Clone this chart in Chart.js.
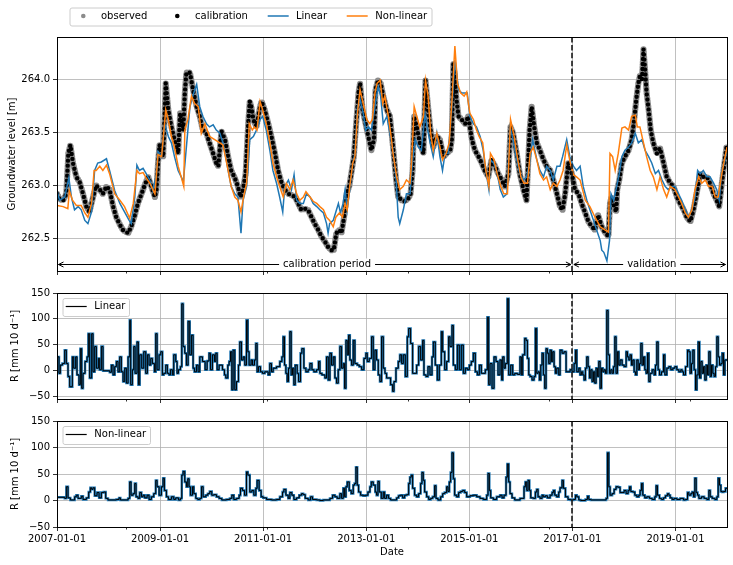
<!DOCTYPE html>
<html>
<head>
<meta charset="utf-8">
<script src="https://cdn.jsdelivr.net/npm/chart.js@4/dist/chart.umd.min.js"></script>
<style>
  html, body { margin: 0; padding: 0; background: #fff; }
  #wrap { position: relative; width: 733px; height: 565px; }
  .panel { position: absolute; left: 0; width: 733px; }
</style>
</head>
<body>
<div id="wrap">
  <div class="panel" style="top:0;height:280px"><canvas id="head"></canvas></div>
  <div class="panel" style="top:280px;height:128px"><canvas id="rlin"></canvas></div>
  <div class="panel" style="top:408px;height:157px"><canvas id="rnl"></canvas></div>
</div>
<script>
// x axis (decimal years)
const xMin = 2007.0, xMax = 2020.0;
const splitYear = 2017.0;
const xTickYears = [2007, 2009, 2011, 2013, 2015, 2017, 2019];
const minorYears = [2008.33, 2011.07, 2013.81, 2016.55, 2019.29];
const headTicks = [262.5, 263.0, 263.5, 264.0];
const rTicks = [-50, 0, 50, 100, 150];

// groundwater level, observed [m]
const obsT = [
  2007.00, 2007.05, 2007.12, 2007.18, 2007.22, 2007.26, 2007.31, 2007.375, 2007.44, 2007.505,
  2007.57, 2007.63, 2007.70, 2007.76, 2007.83, 2007.89, 2007.96, 2008.02, 2008.09, 2008.15,
  2008.22, 2008.28, 2008.38, 2008.44, 2008.51, 2008.57, 2008.64, 2008.70, 2008.77, 2008.83,
  2008.90, 2008.93, 2008.96, 2008.99, 2009.06, 2009.11, 2009.16, 2009.22, 2009.28, 2009.35,
  2009.39, 2009.45, 2009.48, 2009.51, 2009.58, 2009.64, 2009.71, 2009.77, 2009.83, 2009.90,
  2009.96, 2010.03, 2010.09, 2010.13, 2010.19, 2010.26, 2010.32, 2010.38, 2010.45, 2010.51,
  2010.56, 2010.61, 2010.66, 2010.71, 2010.74, 2010.77, 2010.81, 2010.87, 2010.94, 2010.97,
  2011.03, 2011.10, 2011.16, 2011.23, 2011.29, 2011.36, 2011.42, 2011.49, 2011.55, 2011.62,
  2011.68, 2011.74, 2011.81, 2011.87, 2011.94, 2012.00, 2012.07, 2012.13, 2012.20, 2012.26,
  2012.33, 2012.37, 2012.42, 2012.48, 2012.52, 2012.57, 2012.62, 2012.67, 2012.72, 2012.76,
  2012.80, 2012.85, 2012.88, 2012.93, 2012.97, 2013.04, 2013.10, 2013.15, 2013.18, 2013.23,
  2013.28, 2013.33, 2013.40, 2013.46, 2013.52, 2013.58, 2013.62, 2013.69, 2013.75, 2013.82,
  2013.86, 2013.90, 2013.93, 2013.98, 2014.04, 2014.11, 2014.15, 2014.20, 2014.24, 2014.30,
  2014.37, 2014.43, 2014.50, 2014.56, 2014.63, 2014.66, 2014.69, 2014.72, 2014.75, 2014.79,
  2014.85, 2014.92, 2014.98, 2015.05, 2015.11, 2015.18, 2015.24, 2015.30, 2015.37, 2015.43,
  2015.50, 2015.56, 2015.63, 2015.69, 2015.76, 2015.80, 2015.85, 2015.92, 2015.98, 2016.05,
  2016.11, 2016.17, 2016.21, 2016.26, 2016.31, 2016.37, 2016.44, 2016.50, 2016.57, 2016.63,
  2016.70, 2016.76, 2016.81, 2016.86, 2016.92, 2016.99, 2017.05, 2017.12, 2017.18, 2017.25,
  2017.31, 2017.38, 2017.44, 2017.50, 2017.57, 2017.63, 2017.70, 2017.73, 2017.76, 2017.81,
  2017.85, 2017.87, 2017.91, 2017.96, 2018.02, 2018.09, 2018.15, 2018.20, 2018.24, 2018.28,
  2018.31, 2018.35, 2018.38, 2018.41, 2018.44, 2018.48, 2018.52, 2018.57, 2018.64, 2018.70,
  2018.77, 2018.83, 2018.90, 2018.96, 2019.03, 2019.09, 2019.16, 2019.22, 2019.29, 2019.35,
  2019.41, 2019.48, 2019.54, 2019.61, 2019.67, 2019.74, 2019.80, 2019.85, 2019.90, 2019.95,
  2019.99
];
const obsH = [
  262.92, 262.87, 262.86, 262.92, 263.30, 263.38, 263.21, 263.08, 263.03, 262.92,
  262.80, 262.75, 262.89, 263.00, 262.96, 262.92, 262.99, 262.96, 262.80, 262.70,
  262.63, 262.58, 262.55, 262.61, 262.72, 262.83, 262.92, 263.00, 263.08, 262.99,
  262.89, 262.96, 263.21, 263.38, 263.27, 263.96, 263.71, 263.55, 263.43, 263.30,
  263.68, 263.52, 263.87, 264.06, 264.06, 263.90, 263.74, 263.65, 263.52, 263.49,
  263.40, 263.30, 263.21, 263.18, 263.51, 263.43, 263.27, 263.14, 263.07, 262.99,
  262.89, 262.96, 263.11, 263.58, 263.79, 263.74, 263.62, 263.55, 263.74, 263.79,
  263.71, 263.58, 263.46, 263.30, 263.14, 263.02, 262.96, 262.92, 262.91, 262.89,
  262.83, 262.77, 262.78, 262.77, 262.70, 262.64, 262.58, 262.52, 262.47, 262.42,
  262.39, 262.39, 262.55, 262.58, 262.55, 262.70, 262.92, 262.99, 263.14, 263.27,
  263.55, 263.87, 263.96, 263.71, 263.62, 263.46, 263.33, 263.43, 263.90, 263.99,
  263.96, 263.84, 263.71, 263.65, 263.36, 263.05, 262.89, 262.86, 262.85, 262.88,
  262.92, 263.14, 263.65, 263.55, 263.40, 263.30, 263.99, 263.74, 263.55, 263.36,
  263.46, 263.43, 263.27, 263.30, 263.33, 263.43, 264.15, 264.03, 263.81, 263.65,
  263.62, 263.58, 263.65, 263.43, 263.33, 263.27, 263.21, 263.14, 263.08, 263.24,
  263.18, 263.11, 263.05, 262.99, 263.11, 263.55, 263.49, 263.30, 263.11, 262.96,
  262.86, 263.52, 263.74, 263.55, 263.40, 263.33, 263.24, 263.18, 263.14, 263.05,
  262.92, 262.80, 262.77, 262.92, 263.21, 263.11, 262.96, 262.92, 262.83, 262.74,
  262.66, 262.61, 262.58, 262.72, 262.61, 262.56, 262.52, 262.83, 262.89, 262.80,
  262.75, 262.96, 263.05, 263.21, 263.27, 263.33, 263.43, 263.62, 263.81, 263.96,
  264.03, 264.00, 264.28, 264.09, 263.87, 263.71, 263.52, 263.40, 263.30, 263.35,
  263.21, 263.08, 263.02, 262.99, 262.89, 262.83, 262.77, 262.70, 262.66, 262.77,
  262.92, 263.11, 263.08, 263.08, 263.02, 262.92, 262.86, 262.80, 263.02, 263.21,
  263.36
];

// simulated level, linear model [m]
const linT = [
  2007.00, 2007.05, 2007.15, 2007.23, 2007.28, 2007.34, 2007.41, 2007.47, 2007.54, 2007.60,
  2007.67, 2007.73, 2007.79, 2007.86, 2007.96, 2008.02, 2008.12, 2008.22, 2008.31, 2008.40,
  2008.44, 2008.51, 2008.55, 2008.60, 2008.67, 2008.73, 2008.80, 2008.86, 2008.93, 2008.96,
  2009.03, 2009.09, 2009.16, 2009.22, 2009.28, 2009.35, 2009.41, 2009.45, 2009.58, 2009.64,
  2009.71, 2009.77, 2009.83, 2009.90, 2009.96, 2010.03, 2010.09, 2010.16, 2010.22, 2010.28,
  2010.32, 2010.38, 2010.45, 2010.51, 2010.57, 2010.61, 2010.68, 2010.74, 2010.81, 2010.87,
  2010.94, 2010.99, 2011.06, 2011.13, 2011.19, 2011.26, 2011.32, 2011.38, 2011.42, 2011.49,
  2011.55, 2011.60, 2011.65, 2011.71, 2011.78, 2011.84, 2011.91, 2011.97, 2012.04, 2012.10,
  2012.17, 2012.23, 2012.26, 2012.29, 2012.36, 2012.41, 2012.46, 2012.50, 2012.55, 2012.59,
  2012.63, 2012.68, 2012.74, 2012.78, 2012.83, 2012.88, 2012.94, 2012.99, 2013.04, 2013.10,
  2013.17, 2013.23, 2013.28, 2013.33, 2013.40, 2013.46, 2013.52, 2013.58, 2013.62, 2013.65,
  2013.72, 2013.78, 2013.85, 2013.90, 2013.95, 2014.01, 2014.07, 2014.14, 2014.18, 2014.24,
  2014.30, 2014.37, 2014.43, 2014.48, 2014.53, 2014.59, 2014.66, 2014.72, 2014.79, 2014.85,
  2014.92, 2014.96, 2015.01, 2015.08, 2015.14, 2015.21, 2015.27, 2015.32, 2015.38, 2015.41,
  2015.47, 2015.53, 2015.60, 2015.66, 2015.73, 2015.79, 2015.85, 2015.92, 2015.98, 2016.05,
  2016.11, 2016.18, 2016.23, 2016.31, 2016.37, 2016.44, 2016.50, 2016.57, 2016.63, 2016.70,
  2016.76, 2016.81, 2016.89, 2016.95, 2017.02, 2017.08, 2017.15, 2017.21, 2017.28, 2017.34,
  2017.41, 2017.47, 2017.54, 2017.57, 2017.61, 2017.67, 2017.72, 2017.75, 2017.80, 2017.86,
  2017.91, 2017.96, 2018.02, 2018.09, 2018.15, 2018.22, 2018.28, 2018.35, 2018.41, 2018.48,
  2018.54, 2018.61, 2018.67, 2018.74, 2018.80, 2018.86, 2018.93, 2018.99, 2019.06, 2019.12,
  2019.19, 2019.25, 2019.32, 2019.38, 2019.43, 2019.48, 2019.54, 2019.61, 2019.67, 2019.74,
  2019.80, 2019.85, 2019.90, 2019.95, 2020.00
];
const linH = [
  262.95, 262.86, 262.89, 263.07, 262.89, 262.77, 262.80, 262.77, 262.67, 262.64,
  262.75, 263.14, 263.21, 263.22, 263.25, 263.14, 262.95, 262.83, 262.75, 262.67,
  262.64, 262.89, 263.19, 263.14, 263.16, 263.11, 263.05, 262.95, 263.11, 263.32,
  263.27, 263.58, 263.46, 263.40, 263.27, 263.14, 263.08, 263.03, 263.74, 263.85,
  263.95, 263.74, 263.65, 263.58, 263.55, 263.57, 263.52, 263.49, 263.40, 263.25,
  263.14, 262.99, 262.92, 262.89, 262.55, 262.86, 262.99, 263.43, 263.46, 263.52,
  263.62, 263.65, 263.52, 263.33, 263.14, 263.02, 262.89, 262.75, 262.99, 263.05,
  262.96, 263.10, 262.86, 262.83, 262.83, 262.92, 262.89, 262.83, 262.80, 262.77,
  262.74, 262.64, 262.55, 262.64, 262.67, 262.75, 262.83, 262.74, 262.83, 262.96,
  262.77, 262.96, 263.21, 263.30, 263.74, 263.81, 263.68, 263.52, 263.55, 263.52,
  263.74, 263.93, 263.84, 263.58, 263.65, 263.49, 263.33, 263.05, 262.70, 262.64,
  262.77, 262.92, 262.92, 263.24, 263.43, 263.36, 263.33, 263.68, 263.55, 263.40,
  263.27, 263.49, 263.27, 263.14, 263.30, 263.30, 263.71, 264.18, 263.90, 263.87,
  263.87, 263.87, 263.65, 263.58, 263.55, 263.46, 263.33, 263.14, 262.96, 263.24,
  263.21, 263.14, 262.96, 262.89, 262.92, 263.55, 263.43, 263.24, 263.11, 263.05,
  263.08, 263.24, 263.43, 263.24, 263.14, 263.08, 263.18, 263.14, 263.05, 263.18,
  263.18, 263.27, 263.43, 263.27, 263.18, 263.14, 263.18, 262.99, 262.86, 262.77,
  262.67, 262.58, 262.48, 262.39, 262.37, 262.29, 262.48, 262.92, 262.86, 262.99,
  263.11, 263.27, 263.33, 263.36, 263.40, 263.49, 263.40, 263.43, 263.33, 263.27,
  263.21, 263.11, 263.14, 263.05, 262.99, 262.96, 262.99, 262.99, 262.92, 262.86,
  262.77, 262.70, 262.77, 262.89, 263.14, 263.11, 263.14, 263.08, 263.08, 263.02,
  262.96, 262.86, 263.14, 263.21, 263.33
];

// simulated level, non-linear model [m]
const nlT = [
  2007.00, 2007.12, 2007.21, 2007.24, 2007.30, 2007.375, 2007.47, 2007.54, 2007.60, 2007.67,
  2007.72, 2007.76, 2007.83, 2007.89, 2007.96, 2008.02, 2008.12, 2008.22, 2008.31, 2008.41,
  2008.48, 2008.55, 2008.60, 2008.67, 2008.73, 2008.80, 2008.90, 2008.96, 2009.03, 2009.11,
  2009.16, 2009.22, 2009.28, 2009.35, 2009.41, 2009.46, 2009.48, 2009.54, 2009.61, 2009.67,
  2009.74, 2009.80, 2009.87, 2009.96, 2010.06, 2010.16, 2010.22, 2010.28, 2010.32, 2010.38,
  2010.45, 2010.51, 2010.57, 2010.62, 2010.68, 2010.73, 2010.79, 2010.83, 2010.88, 2010.94,
  2010.99, 2011.06, 2011.13, 2011.19, 2011.26, 2011.32, 2011.39, 2011.45, 2011.52, 2011.58,
  2011.65, 2011.71, 2011.78, 2011.83, 2011.91, 2011.97, 2012.04, 2012.10, 2012.17, 2012.23,
  2012.29, 2012.36, 2012.41, 2012.48, 2012.54, 2012.59, 2012.63, 2012.68, 2012.74, 2012.78,
  2012.83, 2012.88, 2012.94, 2013.01, 2013.07, 2013.12, 2013.17, 2013.21, 2013.27, 2013.32,
  2013.36, 2013.43, 2013.49, 2013.52, 2013.59, 2013.65, 2013.72, 2013.78, 2013.85, 2013.88,
  2013.93, 2013.98, 2014.04, 2014.11, 2014.15, 2014.20, 2014.25, 2014.30, 2014.37, 2014.43,
  2014.48, 2014.55, 2014.61, 2014.66, 2014.72, 2014.77, 2014.83, 2014.90, 2014.95, 2015.01,
  2015.08, 2015.14, 2015.19, 2015.26, 2015.32, 2015.38, 2015.41, 2015.48, 2015.54, 2015.61,
  2015.67, 2015.74, 2015.80, 2015.87, 2015.93, 2016.00, 2016.06, 2016.13, 2016.18, 2016.24,
  2016.31, 2016.37, 2016.44, 2016.50, 2016.57, 2016.63, 2016.70, 2016.76, 2016.82, 2016.89,
  2016.96, 2017.02, 2017.08, 2017.15, 2017.25, 2017.34, 2017.44, 2017.54, 2017.63, 2017.70,
  2017.73, 2017.78, 2017.83, 2017.89, 2017.96, 2018.02, 2018.09, 2018.15, 2018.22, 2018.26,
  2018.31, 2018.38, 2018.44, 2018.51, 2018.57, 2018.64, 2018.70, 2018.77, 2018.83, 2018.90,
  2018.99, 2019.06, 2019.12, 2019.19, 2019.25, 2019.32, 2019.38, 2019.45, 2019.51, 2019.58,
  2019.64, 2019.71, 2019.77, 2019.83, 2019.90, 2019.95, 2020.00
];
const nlH = [
  262.81, 262.80, 262.78, 262.95, 262.86, 262.81, 262.81, 262.74, 262.70, 262.83,
  263.14, 263.14, 263.18, 263.14, 263.19, 263.11, 262.92, 262.86, 262.80, 262.69,
  262.83, 263.14, 263.11, 263.12, 263.07, 263.02, 262.92, 263.29, 263.27, 263.71,
  263.62, 263.46, 263.36, 263.18, 263.08, 262.99, 263.52, 263.62, 263.84, 263.77,
  263.74, 263.49, 263.58, 263.46, 263.43, 263.40, 263.38, 263.24, 263.14, 262.99,
  262.89, 262.86, 262.75, 262.89, 263.02, 263.58, 263.52, 263.55, 263.52, 263.79,
  263.71, 263.58, 263.40, 263.21, 263.08, 262.99, 262.89, 263.02, 262.96, 263.05,
  262.92, 262.86, 262.89, 262.94, 262.89, 262.85, 262.83, 262.80, 262.77, 262.70,
  262.67, 262.61, 262.70, 262.74, 262.70, 262.83, 262.77, 262.99, 263.21, 263.27,
  263.68, 263.90, 263.77, 263.62, 263.58, 263.62, 263.87, 263.96, 263.99, 263.77,
  263.84, 263.65, 263.43, 263.30, 263.08, 262.96, 262.99, 263.05, 263.02, 263.21,
  263.74, 263.65, 263.55, 263.65, 263.99, 263.84, 263.49, 263.33, 263.49, 263.36,
  263.24, 263.30, 263.40, 263.77, 264.31, 263.96, 263.87, 263.84, 263.88, 263.68,
  263.62, 263.52, 263.46, 263.40, 263.14, 262.99, 263.30, 263.24, 263.11, 262.99,
  262.92, 262.92, 263.62, 263.46, 263.27, 263.08, 263.02, 263.02, 263.30, 263.36,
  263.24, 263.11, 263.05, 263.08, 262.96, 263.02, 262.99, 263.05, 263.14, 263.38,
  263.21, 263.10, 263.08, 263.05, 262.86, 262.80, 262.70, 262.61, 262.58, 262.56,
  263.30, 263.27, 263.14, 263.30, 263.54, 263.55, 263.52, 263.65, 263.66, 263.55,
  263.55, 263.40, 263.27, 263.14, 263.08, 262.96, 263.08, 262.96, 262.89, 262.99,
  262.96, 262.89, 262.83, 262.74, 262.70, 262.77, 262.96, 263.08, 263.02, 263.05,
  262.99, 262.99, 262.89, 262.89, 263.11, 263.24, 263.36
];

// recharge, linear model [mm 10 d-1], value holds until the next date
const rLinT = [
  2007.000, 2007.039, 2007.065, 2007.104, 2007.149, 2007.181, 2007.214, 2007.246, 2007.298, 2007.324,
  2007.362, 2007.388, 2007.427, 2007.453, 2007.479, 2007.505, 2007.544, 2007.583, 2007.608, 2007.634,
  2007.673, 2007.699, 2007.731, 2007.764, 2007.803, 2007.828, 2007.861, 2007.893, 2008.023, 2008.055,
  2008.087, 2008.120, 2008.152, 2008.184, 2008.217, 2008.249, 2008.282, 2008.314, 2008.346, 2008.379,
  2008.411, 2008.430, 2008.463, 2008.489, 2008.515, 2008.553, 2008.579, 2008.605, 2008.644, 2008.683,
  2008.722, 2008.754, 2008.786, 2008.819, 2008.851, 2008.890, 2008.916, 2008.942, 2008.981, 2009.013,
  2009.045, 2009.071, 2009.110, 2009.142, 2009.175, 2009.201, 2009.239, 2009.265, 2009.304, 2009.330,
  2009.356, 2009.395, 2009.421, 2009.447, 2009.479, 2009.511, 2009.544, 2009.576, 2009.608, 2009.641,
  2009.667, 2009.706, 2009.738, 2009.770, 2009.822, 2009.874, 2009.913, 2009.951, 2009.977, 2010.016,
  2010.055, 2010.081, 2010.107, 2010.146, 2010.210, 2010.249, 2010.275, 2010.314, 2010.340, 2010.366,
  2010.392, 2010.417, 2010.450, 2010.482, 2010.521, 2010.547, 2010.579, 2010.612, 2010.644, 2010.676,
  2010.702, 2010.728, 2010.767, 2010.793, 2010.832, 2010.858, 2010.883, 2010.909, 2010.948, 2010.987,
  2011.032, 2011.097, 2011.129, 2011.162, 2011.194, 2011.259,
  2011.324, 2011.363, 2011.389, 2011.415, 2011.441, 2011.467, 2011.492, 2011.518, 2011.544, 2011.570,
  2011.596, 2011.622, 2011.661, 2011.687, 2011.725, 2011.751, 2011.790, 2011.829, 2011.874, 2011.907,
  2011.946, 2011.984, 2012.036, 2012.075, 2012.101, 2012.140, 2012.198, 2012.230, 2012.263, 2012.295,
  2012.327, 2012.360, 2012.392, 2012.424, 2012.457, 2012.489, 2012.522, 2012.554, 2012.580, 2012.606,
  2012.632, 2012.658, 2012.683, 2012.716, 2012.748, 2012.780, 2012.826, 2012.865, 2012.910, 2012.955,
  2012.994, 2013.020, 2013.059, 2013.104, 2013.136, 2013.169, 2013.201, 2013.234, 2013.266, 2013.298,
  2013.331, 2013.363, 2013.395, 2013.473, 2013.512, 2013.538, 2013.577, 2013.622, 2013.654, 2013.687,
  2013.719, 2013.758, 2013.797, 2013.823, 2013.861, 2013.900, 2013.978, 2014.017, 2014.056, 2014.094,
  2014.120, 2014.159, 2014.198, 2014.237, 2014.276, 2014.302, 2014.340, 2014.379, 2014.418, 2014.457,
  2014.483, 2014.522, 2014.560, 2014.599, 2014.625, 2014.664, 2014.690, 2014.729, 2014.768, 2014.806,
  2014.845, 2014.884, 2014.923, 2014.962, 2015.001, 2015.039, 2015.078, 2015.117, 2015.156, 2015.195,
  2015.234, 2015.311, 2015.350, 2015.376, 2015.402, 2015.441, 2015.480, 2015.518, 2015.557,
  2015.596, 2015.628, 2015.648, 2015.674, 2015.700, 2015.738, 2015.764, 2015.803, 2015.842, 2015.881,
  2015.933, 2015.984, 2016.010, 2016.036, 2016.075, 2016.101, 2016.127, 2016.153, 2016.179, 2016.217,
  2016.256, 2016.282, 2016.308, 2016.334, 2016.360, 2016.386, 2016.412, 2016.437, 2016.463, 2016.489,
  2016.515, 2016.541, 2016.567, 2016.593, 2016.619, 2016.645, 2016.670, 2016.696, 2016.735, 2016.761,
  2016.800, 2016.839, 2016.878, 2016.955, 2016.994, 2017.033, 2017.059, 2017.085, 2017.124, 2017.149,
  2017.175, 2017.201, 2017.227, 2017.253, 2017.279, 2017.305, 2017.331, 2017.357, 2017.382, 2017.408,
  2017.434, 2017.460, 2017.486, 2017.512, 2017.538, 2017.564, 2017.590, 2017.615, 2017.641, 2017.667,
  2017.693, 2017.719, 2017.745, 2017.771, 2017.797, 2017.823, 2017.848, 2017.874, 2017.900, 2017.926,
  2017.965, 2018.004, 2018.043, 2018.069, 2018.095, 2018.120, 2018.146, 2018.172, 2018.198, 2018.224,
  2018.250, 2018.276, 2018.302, 2018.328, 2018.353, 2018.379, 2018.405, 2018.431, 2018.457, 2018.483,
  2018.509, 2018.548, 2018.587, 2018.612, 2018.638, 2018.664, 2018.690, 2018.729, 2018.768, 2018.794,
  2018.832, 2018.871, 2018.910, 2018.949, 2018.988, 2019.026, 2019.065, 2019.104, 2019.130, 2019.156,
  2019.195, 2019.234, 2019.259, 2019.285, 2019.311, 2019.337, 2019.363, 2019.389, 2019.415, 2019.441,
  2019.467, 2019.492, 2019.518, 2019.544, 2019.570, 2019.596, 2019.622, 2019.648, 2019.674, 2019.699,
  2019.725, 2019.751, 2019.777, 2019.803, 2019.829, 2019.855, 2019.881, 2019.907, 2019.933, 2019.958,
  2020.010
];
const rLin = [
  26, -6, 10, 13, 39, 13, -12, -32, 26, 4,
  26, -9, -28, 42, -35, -6, 17, 26, 71, -15,
  71, -3, 46, 4, 23, 1, 46, -1, -4, 10,
  -9, 7, 17, -3, 26, -3, -22, 4, -25, 26,
  97, -28, 1, 46, -6, 55, -28, 30, 4, 36,
  -6, 30, 10, 23, 13, -3, 71, 1, 30, 36,
  -9, -6, 10, -6, -9, 1, -9, 30, 17, -6,
  1, 7, 129, 46, 33, 10, 95, 30, 68, 4,
  -3, 10, -3, 26, 17, 1, 18, 33, 1, 30,
  17, 33, 1, 10, 1, -9, -15, 10, 17, 36,
  -38, 39, -38, -22, 10, 55, 20, 26, 10, 97,
  36, 10, 20, 10, 20, 52, -3, 7, -3, -6,
  -3, -9, 13, -3, 4, 7,
  17, 26, 65, 10, -6, -22, 4, 75, -9, 4,
  -28, 10, -6, -22, 33, 42, 4, -3, 1, 13,
  1, -3, 1, 17, -6, -9, -15, 26, -19, 33,
  10, 26, -15, -25, 1, 46, 4, 13, -35, 58,
  30, 68, 20, 10, 58, 13, 10, 7, 1, 23,
  33, 17, 23, 65, 1, 39, 20, -9, -22, 65,
  4, -6, -15, -28, -41, -22, 4, 17, 30, 13,
  30, -12, 65, 81, 52, -6, 10, 46, 20, 58,
  -9, -12, 7, -9, 26, 55, 10, -19, 10, 75,
  36, 1, 17, 65, 46, 87, 10, 1, 49, 1,
  49, -6, 4, 1, 10, 17, 33, -3, -9, 10,
  -6, 1, 103, -28, 13, -35, 26, 17, -9,
  20, -19, 26, 4, 13, 139, -9, 10, -9, -6,
  -8, 26, -9, 30, 62, 58, 23, -9, -12, -19,
  -12, 81, -6, -3, -19, 10, 33, -9, -35, 42,
  33, 13, 39, 17, 36, 7, -6, 4, -9, 39,
  33, 36, -3, 1, -3, 13, 39, -3, 4, -9,
  -3, -9, -19, 4, 26, 7, -15, 1, -22, -3,
  -25, 4, -12, 17, -35, 4, -3, 1, -6, 116,
  30, -6, 1, -6, 7, 65, -6, 36, 10, 20,
  10, 7, 36, 26, 20, 30, 10, 20, -3, -9,
  20, 1, 13, 52, 10, 26, 1, -6, 33, -22,
  -6, 1, -9, 10, 55, 1, -9, -3, 30, -9,
  4, 7, 1, 4, 7, 1, -3, 1, -3, -9,
  7, 39, 36, -6, 13, 39, 1, -38, -9, 55,
  -15, 17, -6, 7, -19, 10, -9, 36, -12, 10,
  -6, -12, 7, 65, 26, 10, 13, 33, -9, 20,
  20
];

// recharge, non-linear model [mm 10 d-1]
const rNlT = [
  2007.000, 2007.149, 2007.181, 2007.214, 2007.259, 2007.343, 2007.375, 2007.408, 2007.472, 2007.505,
  2007.570, 2007.615, 2007.647, 2007.673, 2007.699, 2007.731, 2007.777, 2007.816, 2007.861, 2007.906,
  2007.945, 2007.990, 2008.152, 2008.204, 2008.230, 2008.379, 2008.411, 2008.437, 2008.476, 2008.508,
  2008.534, 2008.573, 2008.605, 2008.638, 2008.670, 2008.702, 2008.748, 2008.786, 2008.832, 2008.877,
  2008.916, 2008.942, 2008.981, 2009.026, 2009.058, 2009.084, 2009.123, 2009.162, 2009.220, 2009.265,
  2009.304, 2009.356, 2009.395, 2009.421, 2009.447, 2009.479, 2009.511, 2009.537, 2009.563, 2009.589,
  2009.628, 2009.654, 2009.693, 2009.731, 2009.770, 2009.803, 2009.835, 2009.887, 2009.926, 2009.964,
  2010.003, 2010.042, 2010.094, 2010.146, 2010.197, 2010.288, 2010.353, 2010.392, 2010.430, 2010.482,
  2010.534, 2010.560, 2010.599, 2010.638, 2010.676, 2010.702, 2010.741, 2010.780, 2010.819, 2010.858,
  2010.883, 2010.922, 2010.961, 2011.000, 2011.065, 2011.162, 2011.259,
  2011.324, 2011.376, 2011.402, 2011.441, 2011.486, 2011.518, 2011.557, 2011.596, 2011.648, 2011.700,
  2011.745, 2011.777, 2011.816, 2011.874, 2011.920, 2011.958, 2012.036, 2012.101, 2012.166, 2012.295,
  2012.347, 2012.392, 2012.437, 2012.489, 2012.522, 2012.554, 2012.580, 2012.606, 2012.632, 2012.670,
  2012.709, 2012.748, 2012.774, 2012.800, 2012.826, 2012.852, 2012.891, 2012.942, 2012.994, 2013.033,
  2013.072, 2013.098, 2013.136, 2013.175, 2013.201, 2013.227, 2013.253, 2013.292, 2013.331, 2013.357,
  2013.395, 2013.434, 2013.473, 2013.590, 2013.628, 2013.667, 2013.706, 2013.745, 2013.784, 2013.823,
  2013.848, 2013.874, 2013.900, 2013.939, 2013.978, 2014.017, 2014.056, 2014.081, 2014.107, 2014.133,
  2014.172, 2014.211, 2014.250, 2014.289, 2014.327, 2014.353, 2014.392, 2014.444, 2014.483, 2014.522,
  2014.560, 2014.586, 2014.612, 2014.638, 2014.664, 2014.690, 2014.716, 2014.755, 2014.793, 2014.832,
  2014.871, 2014.910, 2014.949, 2015.013, 2015.078, 2015.143, 2015.208, 2015.272, 2015.337, 2015.363,
  2015.389, 2015.415, 2015.467, 2015.531,
  2015.596, 2015.635, 2015.674, 2015.713, 2015.738, 2015.764, 2015.790, 2015.829, 2015.881, 2015.984,
  2016.062, 2016.088, 2016.114, 2016.140, 2016.166, 2016.192, 2016.243, 2016.282, 2016.308, 2016.334,
  2016.373, 2016.412, 2016.437, 2016.476, 2016.515, 2016.567, 2016.606, 2016.632, 2016.658, 2016.696,
  2016.735, 2016.761, 2016.800, 2016.826, 2016.865, 2016.916, 2016.968, 2017.020, 2017.059, 2017.085,
  2017.124, 2017.163, 2017.253, 2017.292, 2017.318, 2017.357, 2017.654, 2017.680, 2017.706, 2017.732,
  2017.771, 2017.810, 2017.848, 2017.887, 2017.926, 2018.004, 2018.043, 2018.082, 2018.107, 2018.133,
  2018.172, 2018.211, 2018.250, 2018.289, 2018.314, 2018.340, 2018.366, 2018.405, 2018.444, 2018.496,
  2018.548, 2018.599, 2018.625, 2018.651, 2018.690, 2018.729, 2018.768, 2018.806, 2018.845, 2018.871,
  2018.897, 2018.936, 2018.975, 2019.026, 2019.091, 2019.156, 2019.195, 2019.234, 2019.259, 2019.298,
  2019.324, 2019.350, 2019.376, 2019.402, 2019.428, 2019.454, 2019.505, 2019.557, 2019.609, 2019.648,
  2019.674, 2019.713, 2019.764, 2019.803, 2019.829, 2019.855, 2019.881, 2019.907, 2019.933, 2019.971,
  2020.010
];
const rNl = [
  6, 4, 26, 5, 1, 7, 10, 4, 8, 2,
  5, 16, 24, 21, 24, 9, 15, 5, 15, 16,
  4, 1, 2, 5, 1, 4, 35, 10, 13, 32,
  7, 4, 15, 7, 10, 5, 10, 2, 7, 13,
  38, 26, 10, 26, 42, 19, 7, 2, 7, 2,
  5, 1, 4, 48, 55, 35, 26, 41, 26, 10,
  26, 13, 4, 2, 4, 26, 7, 10, 13, 17,
  10, 11, 7, 4, 1, 2, 4, 10, 2, 4,
  10, 23, 19, 10, 54, 48, 16, 19, 10, 23,
  38, 19, 7, 5, 2, 1, 2,
  7, 16, 21, 10, 4, 15, 10, 2, 5, 10,
  13, 11, 4, 1, 7, 2, 1, 0, 1, 4,
  10, 7, 4, 13, 4, 23, 7, 26, 35, 19,
  13, 29, 32, 63, 29, 16, 10, 9, 10, 16,
  26, 35, 29, 16, 10, 36, 16, 4, 16, 4,
  10, 4, 1, 5, 9, 10, 5, 10, 11, 32,
  44, 48, 23, 10, 7, 13, 32, 53, 38, 16,
  7, 2, 4, 7, 28, 4, 1, 7, 13, 15,
  26, 17, 35, 53, 90, 41, 10, 7, 15, 17,
  19, 15, 7, 9, 10, 7, 4, 2, 10, 51,
  19, 5, 2, 7,
  10, 5, 10, 44, 69, 35, 13, 5, 1, 4,
  26, 35, 19, 38, 19, 5, 4, 16, 21, 7,
  4, 10, 7, 9, 5, 10, 15, 19, 10, 7,
  16, 24, 38, 23, 7, 2, 1, 2, 10, 7,
  1, 0, 2, 8, 2, 1, 4, 90, 26, 10,
  13, 21, 26, 25, 15, 19, 13, 19, 26, 17,
  16, 10, 7, 10, 19, 32, 10, 5, 7, 4,
  2, 7, 28, 10, 4, 2, 5, 9, 13, 10,
  5, 2, 4, 2, 4, 1, 2, 15, 10, 13,
  16, 7, 42, 15, 10, 4, 7, 4, 2, 19,
  7, 4, 2, 7, 42, 29, 17, 16, 17, 23,
  23
];

Chart.defaults.font.family = "'DejaVu Sans', sans-serif";
Chart.defaults.font.size = 10;
Chart.defaults.color = '#000';
Chart.defaults.animation = false;

const BLUE = '#1f77b4', ORANGE = '#ff7f0e', GREY = '#8c8c8c', GRID = '#b0b0b0';
const pts = (ts, vs) => ts.map((t, i) => ({ x: t, y: vs[i] }));
const fmtR = v => (v < 0 ? '\u2212' + Math.abs(v) : String(v));

function xAxis(height, labels) {
  return {
    type: 'linear', min: xMin, max: xMax,
    afterBuildTicks: s => { s.ticks = xTickYears.map(v => ({ value: v })); },
    afterFit: s => { s.height = height; },
    grid: { color: GRID, lineWidth: 0.8, tickColor: '#000', tickLength: 4 },
    border: { display: false },
    ticks: { display: labels, padding: 2, maxRotation: 0, autoSkip: false, callback: v => v + '-01-01' },
    title: { display: labels, text: 'Date', padding: { top: 0, bottom: 7 } }
  };
}

function yAxis(min, max, ticks, fmt, title, pad) {
  return {
    min, max,
    afterBuildTicks: s => { s.ticks = ticks.map(v => ({ value: v })); },
    afterFit: s => { s.width = 57; },
    grid: { color: GRID, lineWidth: 0.8, tickColor: '#000', tickLength: 4 },
    border: { display: false },
    ticks: { padding: 3, callback: fmt },
    title: { display: true, text: title, padding: { top: pad, bottom: 0 } }
  };
}

// box, split line, minor ticks
const frame = {
  id: 'frame',
  afterDatasetsDraw(chart) {
    const { ctx, chartArea: a, scales: { x } } = chart;
    ctx.save();
    ctx.strokeStyle = '#000';
    ctx.lineWidth = 0.8;
    minorYears.forEach(m => {
      const px = Math.round(x.getPixelForValue(m)) + 0.5;
      ctx.beginPath(); ctx.moveTo(px, a.bottom); ctx.lineTo(px, a.bottom + 2.5); ctx.stroke();
    });
    const sx = Math.round(x.getPixelForValue(splitYear));
    ctx.lineWidth = 1.6;
    ctx.setLineDash([5.5, 2.4]);
    ctx.strokeStyle = '#1a1a1a';
    ctx.beginPath(); ctx.moveTo(sx, a.top); ctx.lineTo(sx, a.bottom); ctx.stroke();
    ctx.setLineDash([]);
    ctx.strokeStyle = '#000';
    ctx.lineWidth = 1;
    ctx.strokeRect(a.left + 0.5, a.top + 0.5, a.right - a.left, a.bottom - a.top);
    ctx.restore();
  }
};

// calibration / validation arrows
const periods = {
  id: 'periods',
  afterDatasetsDraw(chart, args, o) {
    if (!o.spans) return;
    const { ctx, chartArea: a, scales: { x } } = chart;
    const y = a.bottom - 6.5;
    ctx.save();
    ctx.strokeStyle = '#000';
    ctx.lineWidth = 1;
    ctx.font = "10px 'DejaVu Sans'";
    o.spans.forEach(sp => {
      const x0 = x.getPixelForValue(sp.from) + 1.5, x1 = x.getPixelForValue(sp.to) - 1.5;
      ctx.beginPath();
      ctx.moveTo(x0, y); ctx.lineTo(x1, y);
      ctx.moveTo(x0 + 5, y - 2.5); ctx.lineTo(x0, y); ctx.lineTo(x0 + 5, y + 2.5);
      ctx.moveTo(x1 - 5, y - 2.5); ctx.lineTo(x1, y); ctx.lineTo(x1 - 5, y + 2.5);
      ctx.stroke();
      const tx = x.getPixelForValue(sp.at);
      const w = ctx.measureText(sp.text).width;
      ctx.fillStyle = '#fff';
      ctx.fillRect(tx - w / 2 - 4, y - 6, w + 8, 12);
      ctx.fillStyle = '#000';
      ctx.textAlign = 'center';
      ctx.textBaseline = 'middle';
      ctx.fillText(sp.text, tx, y);
    });
    ctx.restore();
  }
};

// matplotlib-like framed legend
const boxLegend = {
  id: 'boxLegend',
  afterDraw(chart, args, o) {
    if (!o.items) return;
    const { ctx, chartArea: a } = chart;
    const bx = a.left + o.x, by = a.top + o.y, cy = by + o.h / 2 - 0.5;
    ctx.save();
    ctx.beginPath();
    ctx.roundRect(bx + 0.5, by + 0.5, o.w, o.h, 2);
    ctx.fillStyle = 'rgba(255,255,255,0.8)';
    ctx.fill();
    ctx.strokeStyle = '#cccccc';
    ctx.lineWidth = 1;
    ctx.stroke();
    ctx.font = "10px 'DejaVu Sans'";
    ctx.textBaseline = 'middle';
    o.items.forEach(it => {
      const ds = chart.data.datasets[it.ds];
      if (it.kind === 'dot') {
        ctx.fillStyle = ds.borderColor;
        ctx.beginPath(); ctx.arc(bx + it.mx, cy, 2.3, 0, Math.PI * 2); ctx.fill();
      } else {
        ctx.strokeStyle = ds.borderColor;
        ctx.lineWidth = it.lw;
        ctx.beginPath(); ctx.moveTo(bx + it.mx, cy); ctx.lineTo(bx + it.mx + 21, cy); ctx.stroke();
      }
      ctx.fillStyle = '#000';
      ctx.fillText(ds.label, bx + it.tx, cy);
    });
    ctx.restore();
  }
};

new Chart(document.getElementById('head'), {
  type: 'line',
  data: {
    datasets: [
      { label: 'observed', data: pts(obsT, obsH), borderColor: GREY, borderWidth: 6.2,
        borderDash: [0, 2.6], borderCapStyle: 'round', pointRadius: 0, order: 3 },
      { label: 'calibration', data: pts(obsT, obsH), borderColor: '#000', borderWidth: 4.4,
        borderDash: [0, 5], borderCapStyle: 'round', pointRadius: 0, order: 2 },
      { label: 'Linear', data: pts(linT, linH), borderColor: BLUE, borderWidth: 1.5,
        pointRadius: 0, order: 1 },
      { label: 'Non-linear', data: pts(nlT, nlH), borderColor: ORANGE, borderWidth: 1.5,
        pointRadius: 0, order: 0 }
    ]
  },
  options: {
    responsive: true, maintainAspectRatio: false,
    layout: { padding: { left: 0, right: 6, top: 37, bottom: 0 } },
    scales: {
      x: xAxis(9, false),
      y: yAxis(262.194, 264.396, headTicks, v => v.toFixed(1), 'Groundwater level [m]', 6)
    },
    plugins: {
      legend: { display: false }, tooltip: { enabled: false },
      periods: { spans: [
        { from: xMin, to: splitYear, at: 2012.24, text: 'calibration period' },
        { from: splitYear, to: xMax, at: 2018.54, text: 'validation' }
      ] },
      boxLegend: { x: 12.5, y: -29.5, w: 362, h: 18, items: [
        { ds: 0, kind: 'dot', mx: 13.8, tx: 31.5 },
        { ds: 1, kind: 'dot', mx: 107.8, tx: 125.5 },
        { ds: 2, kind: 'line', lw: 1.5, mx: 198.2, tx: 226.5 },
        { ds: 3, kind: 'line', lw: 1.5, mx: 277.2, tx: 305.8 }
      ] }
    }
  },
  plugins: [frame, periods, boxLegend]
});

function rechargeChart(id, label, t, v, yMin, xHeight, withDate) {
  return new Chart(document.getElementById(id), {
    type: 'line',
    data: {
      datasets: [
        { label: label, data: pts(t, v), stepped: true, borderColor: '#000', borderWidth: 1,
          pointRadius: 0, order: 0 },
        { label: label + ' band', data: pts(t, v), stepped: true, borderColor: BLUE, borderWidth: 2.4,
          pointRadius: 0, order: 1 }
      ]
    },
    options: {
      responsive: true, maintainAspectRatio: false,
      layout: { padding: { left: 0, right: 6, top: 13, bottom: 0 } },
      scales: {
        x: xAxis(xHeight, withDate),
        y: yAxis(yMin, 150, rTicks, fmtR, 'R [mm 10 d\u207B\u00B9]', 9)
      },
      plugins: {
        legend: { display: false }, tooltip: { enabled: false },
        boxLegend: { x: 5.5, y: 5, w: label.length > 7 ? 87.5 : 66.5, h: 18, items: [
          { ds: 0, kind: 'line', lw: 1.2, mx: 3.2, tx: 31.8 }
        ] }
      }
    },
    plugins: [frame, boxLegend]
  });
}

rechargeChart('rlin', 'Linear', rLinT, rLin, -55.8, 9, false);
rechargeChart('rnl', 'Non-linear', rNlT, rNl, -50, 38, true);
</script>
</body>
</html>
